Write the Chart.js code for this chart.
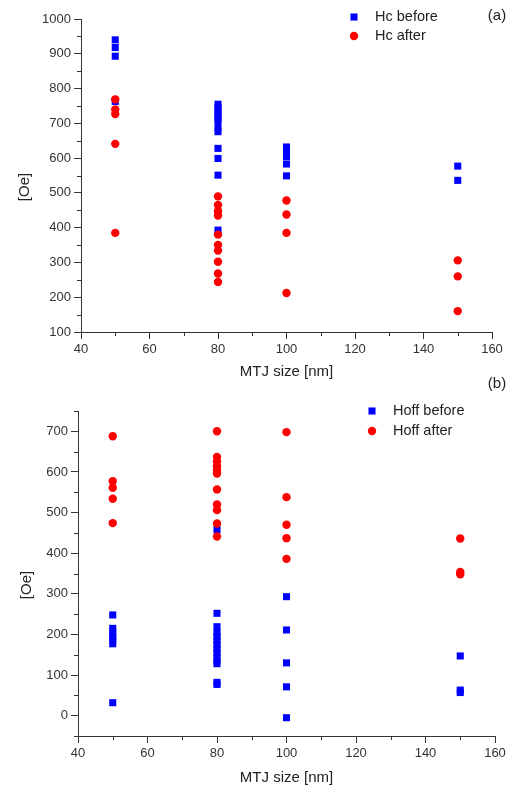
<!DOCTYPE html>
<html>
<head>
<meta charset="utf-8">
<script src="https://cdn.jsdelivr.net/npm/chart.js@4.4.0/dist/chart.umd.min.js"></script>
<style>
  body { margin: 0; background: #fff; }
  .wrap { position: relative; width: 515px; height: 794px; }
  canvas { position: absolute; left: 0; }
</style>
</head>
<body>
<div class="wrap">
  <canvas id="hcChart" width="515" height="390" style="top:0px"></canvas>
  <canvas id="hoffChart" width="515" height="424" style="top:370px"></canvas>
</div>
<script>
// values: MTJ size [nm] and field [Oe]
const hcBeforeSize = [50, 50, 50, 50,
  80, 80, 80, 80, 80, 80, 80, 80, 80, 80, 80, 80,
  100, 100, 100, 100, 100,
  150, 150];
const hcBeforeOe = [940, 918, 893, 763,
  755, 745, 735, 725, 715, 708, 688, 676, 628, 599, 551, 393,
  632, 619, 604, 583, 549,
  577, 536];

const hcAfterSize = [50, 50, 50, 50, 50,
  80, 80, 80, 80, 80, 80, 80, 80, 80, 80,
  100, 100, 100, 100,
  150, 150, 150];
const hcAfterOe = [769, 740, 727, 641, 385,
  490, 465, 447, 435, 380, 350, 334, 302, 268, 244,
  478, 438, 385, 212,
  306, 260, 160];

const hoffBeforeSize = [50, 50, 50, 50, 50, 50, 50,
  80, 80, 80, 80, 80, 80, 80, 80, 80, 80, 80, 80, 80, 80,
  100, 100, 100, 100, 100,
  150, 150, 150];
const hoffBeforeOe = [248, 215, 205, 195, 186, 177, 32,
  458, 252, 219, 205, 195, 185, 175, 165, 155, 145, 135, 128, 82, 77,
  293, 211, 130, 71, -5,
  147, 63, 57];

const hoffAfterSize = [50, 50, 50, 50, 50,
  80, 80, 80, 80, 80, 80, 80, 80, 80, 80, 80,
  100, 100, 100, 100, 100,
  150, 150, 150];
const hoffAfterOe = [688, 577, 561, 534, 474,
  700, 637, 626, 614, 604, 596, 557, 520, 506, 473, 441,
  698, 538, 470, 437, 386,
  436, 354, 348];

const xTicks = [40, 60, 80, 100, 120, 140, 160];
const hcTicks = [100, 200, 300, 400, 500, 600, 700, 800, 900, 1000];
const hoffTicks = [0, 100, 200, 300, 400, 500, 600, 700];

const toPoints = (xs, ys) => xs.map((x, i) => ({ x: x, y: ys[i] }));

const FONT = '"Liberation Sans", Arial, sans-serif';
const INK = '#333';

// minor ticks, y title, inset legend and panel letter
const extras = {
  id: 'extras',
  afterDraw(chart, args, opts) {
    const ctx = chart.ctx;
    const xs = chart.scales.x, ys = chart.scales.y;
    ctx.save();
    ctx.strokeStyle = INK;
    ctx.lineWidth = 1;
    ctx.beginPath();
    const half = opts.xStep / 2;
    for (let v = Math.ceil(xs.min / half) * half; v <= xs.max; v += half) {
      if (v % opts.xStep === 0) continue;
      const px = Math.round(xs.getPixelForValue(v)) + 0.5;
      ctx.moveTo(px, ys.bottom);
      ctx.lineTo(px, ys.bottom + 4);
    }
    const yHalf = opts.yStep / 2;
    for (let v = Math.ceil(ys.min / yHalf) * yHalf; v <= ys.max; v += yHalf) {
      if (v % opts.yStep === 0) continue;
      const py = Math.round(ys.getPixelForValue(v)) + 0.5;
      ctx.moveTo(xs.left, py);
      ctx.lineTo(xs.left - 4, py);
    }
    ctx.stroke();

    // y axis title, sits a bit below the middle like the original
    ctx.fillStyle = '#222';
    ctx.font = '15px ' + FONT;
    ctx.textAlign = 'center';
    ctx.textBaseline = 'middle';
    ctx.save();
    ctx.translate(opts.yTitle.x, opts.yTitle.y);
    ctx.rotate(-Math.PI / 2);
    ctx.fillText(opts.yTitle.text, 0, 0);
    ctx.restore();

    ctx.fillText(opts.tag.text, opts.tag.x, opts.tag.y);

    // legend
    const lg = opts.legend;
    ctx.font = '14.5px ' + FONT;
    ctx.textAlign = 'left';
    chart.data.datasets.forEach((ds, i) => {
      const cy = lg.y + i * lg.gap;
      ctx.fillStyle = ds.backgroundColor;
      Chart.helpers.drawPoint(ctx, {
        pointStyle: ds.pointStyle, radius: ds.pointRadius, rotation: 0, borderWidth: 0
      }, lg.x, cy);
      ctx.fillStyle = '#222';
      ctx.fillText(ds.label, lg.textX, cy);
    });
    ctx.restore();
  }
};

function makeChart(id, cfg) {
  const ctx = document.getElementById(id).getContext('2d');
  return new Chart(ctx, {
    type: 'scatter',
    data: {
      datasets: [{
        label: cfg.labels[0],
        data: cfg.before,
        pointStyle: 'rect',
        pointRadius: 5,
        backgroundColor: '#0000ff',
        borderWidth: 0,
        order: 1
      }, {
        label: cfg.labels[1],
        data: cfg.after,
        pointStyle: 'circle',
        pointRadius: 4.2,
        backgroundColor: '#ff0000',
        borderWidth: 0,
        order: 0
      }]
    },
    options: {
      responsive: false,
      devicePixelRatio: 1,
      animation: false,
      layout: { padding: cfg.padding },
      plugins: {
        legend: { display: false },
        tooltip: { enabled: false },
        extras: {
          xStep: 20, yStep: 100,
          legend: cfg.legend,
          tag: cfg.tag,
          yTitle: cfg.yTitle
        }
      },
      scales: {
        x: {
          type: 'linear',
          min: 40, max: 160,
          afterBuildTicks: s => { s.ticks = xTicks.map(v => ({ value: v })); },
          afterFit: s => { s.height = cfg.xHeight; },
          grid: { drawOnChartArea: false, drawTicks: true, tickLength: 7, tickColor: INK },
          border: { display: true, color: INK, width: 1 },
          ticks: { color: INK, font: { family: FONT, size: 13 }, padding: 3, maxRotation: 0,
                   callback: v => String(v) },
          title: { display: true, text: 'MTJ size [nm]', color: '#222',
                   font: { family: FONT, size: 15 }, padding: { top: 0, bottom: cfg.xTitlePad } }
        },
        y: {
          min: cfg.yMin, max: cfg.yMax,
          afterBuildTicks: s => { s.ticks = cfg.yTicks.map(v => ({ value: v })); },
          afterFit: s => { s.width = cfg.yWidth; },
          grid: { drawOnChartArea: false, drawTicks: true, tickLength: 7, tickColor: INK },
          border: { display: true, color: INK, width: 1 },
          ticks: { color: INK, font: { family: FONT, size: 13 }, padding: 3,
                   callback: v => String(v) }
        }
      }
    },
    plugins: [extras]
  });
}

makeChart('hcChart', {
  labels: ['Hc before', 'Hc after'],
  before: toPoints(hcBeforeSize, hcBeforeOe),
  after: toPoints(hcAfterSize, hcAfterOe),
  yMin: 100, yMax: 1000, yTicks: hcTicks,
  padding: { top: 19, right: 23, left: 0, bottom: 0 },
  yWidth: 81, xHeight: 58, xTitlePad: 9,
  yTitle: { text: '[Oe]', x: 25, y: 187 },
  legend: { x: 354, y: 17, textX: 375, gap: 19 },
  tag: { text: '(a)', x: 497, y: 16 }
});

makeChart('hoffChart', {
  labels: ['Hoff before', 'Hoff after'],
  before: toPoints(hoffBeforeSize, hoffBeforeOe),
  after: toPoints(hoffAfterSize, hoffAfterOe),
  yMin: -50, yMax: 750, yTicks: hoffTicks,
  padding: { top: 41, right: 20, left: 0, bottom: 0 },
  yWidth: 78, xHeight: 58, xTitlePad: 7,
  yTitle: { text: '[Oe]', x: 27, y: 215 },
  legend: { x: 372, y: 41, textX: 393, gap: 20 },
  tag: { text: '(b)', x: 497, y: 14 }
});
</script>
</body>
</html>
